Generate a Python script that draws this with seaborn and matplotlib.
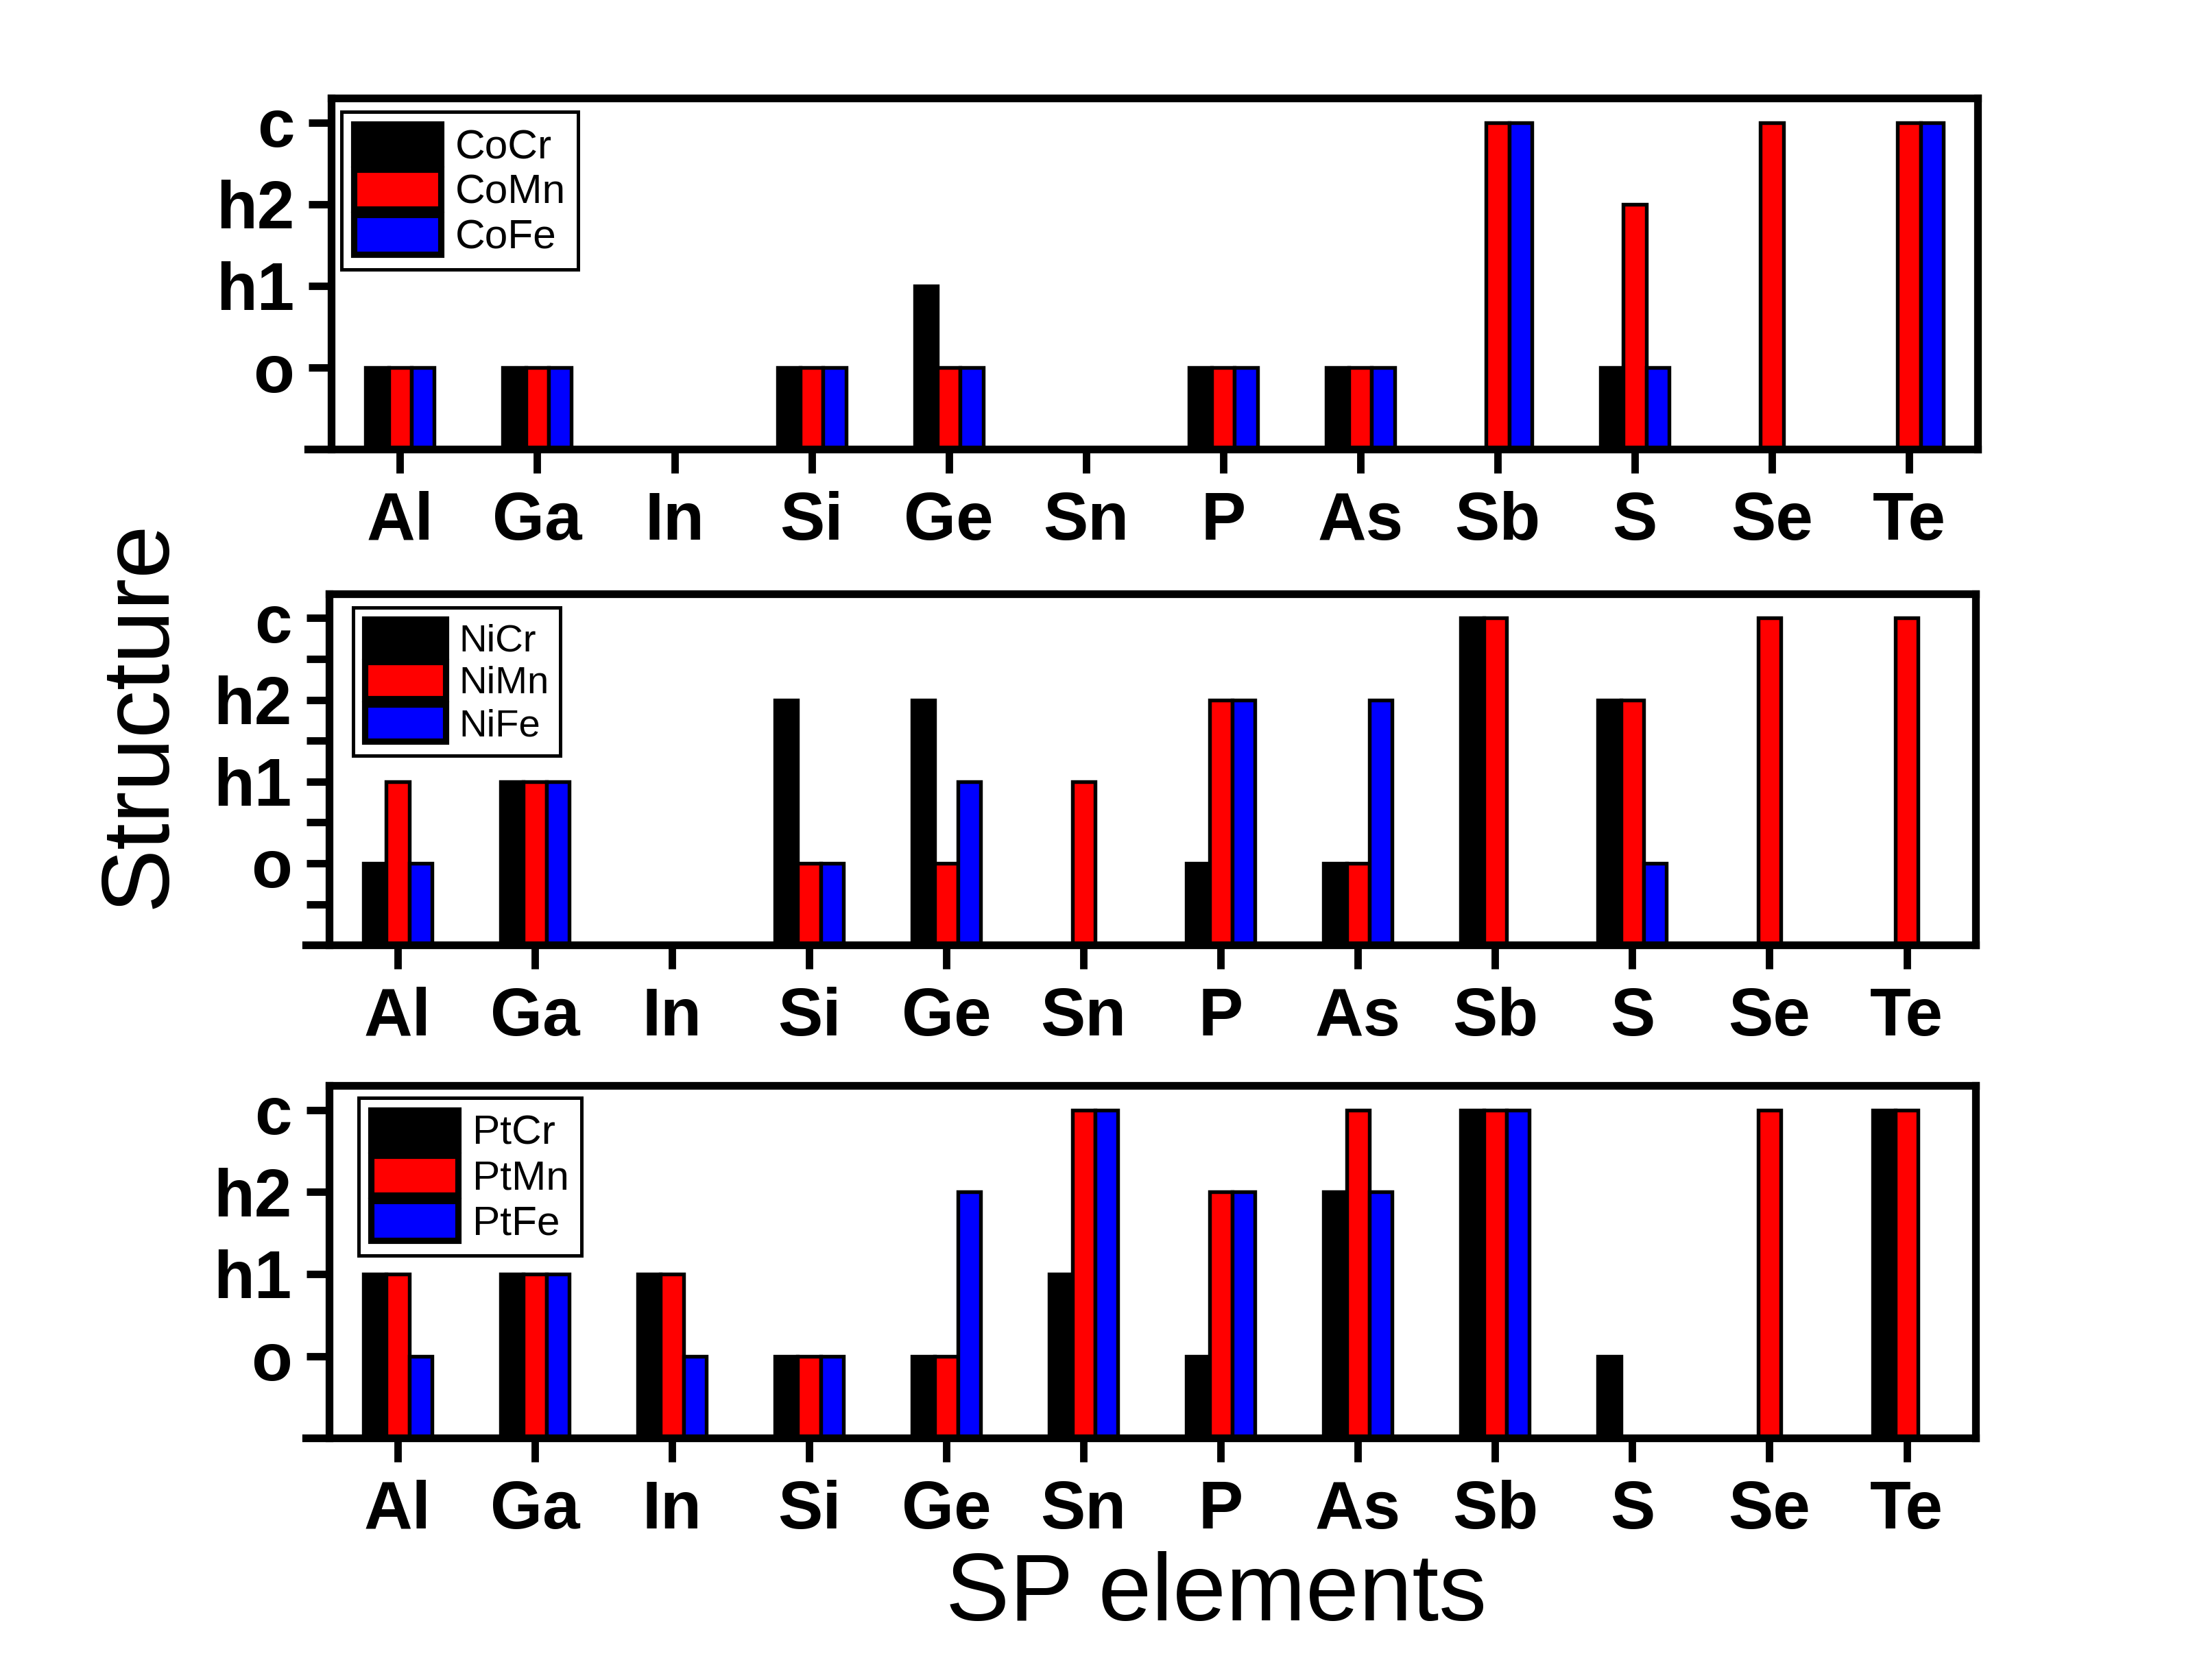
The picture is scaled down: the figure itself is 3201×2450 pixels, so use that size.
import matplotlib
matplotlib.use("Agg")
import matplotlib.pyplot as plt
import matplotlib.patches as mpatches
import pandas as pd
import seaborn as sns

# %%
# categories and structure levels (None = no structure reported)
elements = ['Al', 'Ga', 'In', 'Si', 'Ge', 'Sn', 'P', 'As', 'Sb', 'S', 'Se', 'Te']
levels = ['o', 'h1', 'h2', 'c']

co_cr = ['o', 'o', None, 'o', 'h1', None, 'o', 'o', None, 'o', None, None]
co_mn = ['o', 'o', None, 'o', 'o', None, 'o', 'o', 'c', 'h2', 'c', 'c']
co_fe = ['o', 'o', None, 'o', 'o', None, 'o', 'o', 'c', 'o', None, 'c']

ni_cr = ['o', 'h1', None, 'h2', 'h2', None, 'o', 'o', 'c', 'h2', None, None]
ni_mn = ['h1', 'h1', None, 'o', 'o', 'h1', 'h2', 'o', 'c', 'h2', 'c', 'c']
ni_fe = ['o', 'h1', None, 'o', 'h1', None, 'h2', 'h2', None, 'o', None, None]

pt_cr = ['h1', 'h1', 'h1', 'o', 'o', 'h1', 'o', 'h2', 'c', 'o', None, 'c']
pt_mn = ['h1', 'h1', 'h1', 'o', 'o', 'c', 'h2', 'c', 'c', None, 'c', 'c']
pt_fe = ['o', 'h1', 'o', 'o', 'h2', 'c', 'h2', 'h2', 'c', None, None, None]

panels = [
    (['CoCr', 'CoMn', 'CoFe'], [co_cr, co_mn, co_fe]),
    (['NiCr', 'NiMn', 'NiFe'], [ni_cr, ni_mn, ni_fe]),
    (['PtCr', 'PtMn', 'PtFe'], [pt_cr, pt_mn, pt_fe]),
]
colors = ['#000000', '#ff0000', '#0000ff']


def to_frame(names, series):
    rows = []
    for name, vals in zip(names, series):
        for el, v in zip(elements, vals):
            if v is not None:
                rows.append({'element': el, 'alloy': name, 'level': levels.index(v)})
    df = pd.DataFrame(rows)
    # bars start at the baseline (-1), one step below "o"
    df['height'] = df['level'] + 1
    return df


# %%
sns.set_style('ticks')
plt.rcParams['font.family'] = ['Liberation Sans', 'DejaVu Sans']
plt.rcParams['text.color'] = 'black'

fig = plt.figure(figsize=(3201 / 300, 2450 / 300), dpi=300)
rects = [
    [0.151, 0.7325, 0.750, 0.2092],
    [0.1499, 0.4375, 0.750, 0.2092],
    [0.1499, 0.144, 0.750, 0.210],
]
legend_cfg = [
    dict(anchor=(0.006, 0.96), size=14.5),
    dict(anchor=(0.0145, 0.96), size=13.5),
    dict(anchor=(0.018, 0.964), size=14.5),
]

for i, ((names, series), rect, lc) in enumerate(zip(panels, rects, legend_cfg)):
    ax = fig.add_axes(rect)
    df = to_frame(names, series)
    sns.barplot(data=df, x='element', y='height', hue='alloy',
                order=elements, hue_order=names, palette=colors,
                saturation=1, width=0.5, errorbar=None, legend=False,
                edgecolor='black', linewidth=1.3, bottom=-1, ax=ax)
    ax.set_xlim(-0.5, 11.5)
    ax.set_ylim(-1, 3.3)
    ax.set_xlabel('')
    ax.set_ylabel('')

    ax.set_yticks([-1, 0, 1, 2, 3])
    ax.set_yticklabels([''] + levels, fontsize=23.5, fontweight='bold')
    if i == 1:
        ax.set_yticks([-0.5, 0.5, 1.5, 2.5], minor=True)
    ax.set_xticks(range(len(elements)))
    ax.set_xticklabels(elements, fontsize=23.5, fontweight='bold')

    ax.tick_params(axis='y', which='both', direction='out', length=8,
                   width=2.6, pad=5, colors='black')
    ax.tick_params(axis='x', which='both', direction='out', length=8.5,
                   width=2.6, pad=6, colors='black')
    for side in ['top', 'bottom', 'left', 'right']:
        ax.spines[side].set_visible(True)
        ax.spines[side].set_linewidth(2.7)
        ax.spines[side].set_color('black')
    # bottom axis line runs out to the end of the y ticks
    ax.spines['bottom'].set_bounds(-0.67, 11.5)

    handles = [mpatches.Patch(facecolor=c, edgecolor='black', linewidth=2.2)
               for c in colors]
    leg = ax.legend(handles, names, loc='upper left', bbox_to_anchor=lc['anchor'],
                    borderaxespad=0, fontsize=lc['size'], frameon=True, fancybox=False,
                    edgecolor='black', framealpha=1, handlelength=2.1, handleheight=1.1,
                    labelspacing=0.07, handletextpad=0.35, borderpad=0.3,
                    labelcolor='black')
    leg.get_frame().set_linewidth(1.2)

fig.text(0.064, 0.575, 'Structure', rotation=90, fontsize=33.5,
         ha='center', va='center', color='black')
fig.text(0.554, 0.05, 'SP elements', fontsize=33.5, ha='center', va='center',
         color='black')

fig.savefig('out.png', dpi=300)
